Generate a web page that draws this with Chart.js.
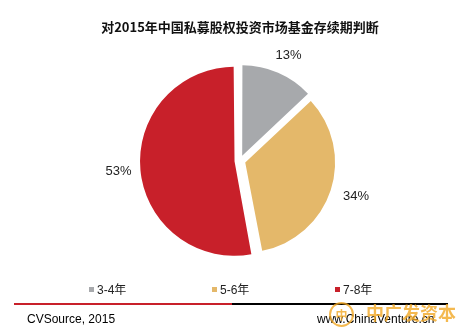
<!DOCTYPE html>
<html>
<head>
<meta charset="utf-8">
<script src="https://cdn.jsdelivr.net/npm/chart.js@4"></script>
<style>
  body { margin: 0; background: #fff; }
  #wrap { position: relative; width: 463px; height: 333px; overflow: hidden; font-family: "Liberation Sans", Arial, "Noto Sans CJK SC", sans-serif; }
  #myChart { position: absolute; left: 0; top: 0; }
  .leg { position: absolute; top: 282px; font-size: 12px; color: #222; line-height: 16px; white-space: nowrap; }
  .leg i { display: inline-block; width: 5px; height: 5px; margin-right: 3px; vertical-align: 2px; }
  .rule { position: absolute; top: 303px; height: 2px; }
  .foot { position: absolute; top: 312px; font-size: 12px; color: #000; line-height: 14px; }
  #mark { position: absolute; left: 329px; top: 302px; opacity: 0.8; color: #f2a825; }
  #mark .logo { position: absolute; left: 0; top: 0; width: 21px; height: 21px; border: 2px solid #f2a825; border-radius: 50%; font: bold 12px "Noto Sans CJK SC"; text-align: center; line-height: 21px; }
  #mark .name { position: absolute; left: 37px; top: -1px; font: bold 18px "Noto Sans CJK SC"; line-height: 22px; white-space: nowrap; }
</style>
</head>
<body>
<div id="wrap">
  <canvas id="myChart" width="463" height="333"></canvas>
  <div id="legend"></div>
  <div class="rule" style="left:14px;width:218px;background:#c8202a;"></div>
  <div class="rule" style="left:232px;width:216px;background:#000;"></div>
  <div class="foot" style="left:27px;">CVSource, 2015</div>
  <div class="foot" style="left:317px;">www.ChinaVenture.cn</div>
  <div id="mark"><div class="logo">中</div><div class="name">中广发资本</div></div>
</div>
<script>
// Chart data
const chartTitle = '对2015年中国私募股权投资市场基金存续期判断';
const categories = ['3-4年', '5-6年', '7-8年'];
const shares = [13, 34, 53];
const sliceColors = ['#a7a9ac', '#e4b86a', '#c8202a'];

// Legend (HTML, spread evenly like the original)
const legendBox = document.getElementById('legend');
categories.forEach(function(name, i) {
    const item = document.createElement('div');
    item.className = 'leg';
    item.style.left = (89 + i * 123) + 'px';
    item.innerHTML = '<i style="background:' + sliceColors[i] + '"></i>' + name;
    legendBox.appendChild(item);
});

// Percent labels outside each slice
const outsideLabels = {
    id: 'outsideLabels',
    afterDatasetsDraw(chart) {
        const ctx = chart.ctx;
        const meta = chart.getDatasetMeta(0);
        ctx.save();
        ctx.font = '13px "Liberation Sans", Arial, sans-serif';
        ctx.fillStyle = '#222';
        ctx.textAlign = 'center';
        ctx.textBaseline = 'middle';
        meta.data.forEach(function(arc, i) {
            const p = arc.getProps(['x', 'y', 'startAngle', 'endAngle', 'outerRadius'], true);
            const mid = (p.startAngle + p.endAngle) / 2;
            const d = p.outerRadius + 20;
            const w = ctx.measureText(shares[i] + '%').width;
            // push the text box outward so its inner edge sits near the anchor
            const x = p.x + Math.cos(mid) * d + Math.cos(mid) * w / 2;
            const y = p.y + Math.sin(mid) * d + Math.sin(mid) * 6;
            ctx.fillText(shares[i] + '%', x, y);
        });
        ctx.restore();
    }
};

const ctx = document.getElementById('myChart').getContext('2d');
new Chart(ctx, {
    type: 'pie',
    data: {
        labels: categories,
        datasets: [{
            data: shares,
            backgroundColor: sliceColors,
            borderColor: '#ffffff',
            borderWidth: 0,
            offset: 22, // v4 draws a quarter of this as the explode shift
            radius: 89
        }]
    },
    options: {
        responsive: false,
        devicePixelRatio: 1,
        animation: false,
        layout: { padding: { left: 17, right: 0, top: 0, bottom: 66 } },
        plugins: {
            title: {
                display: true,
                text: chartTitle,
                color: '#111',
                font: { family: '"Noto Sans CJK SC", sans-serif', size: 13, weight: 'bold' },
                padding: { top: 19, bottom: 20 }
            },
            legend: { display: false },
            tooltip: { enabled: false }
        }
    },
    plugins: [outsideLabels]
});
</script>
</body>
</html>
